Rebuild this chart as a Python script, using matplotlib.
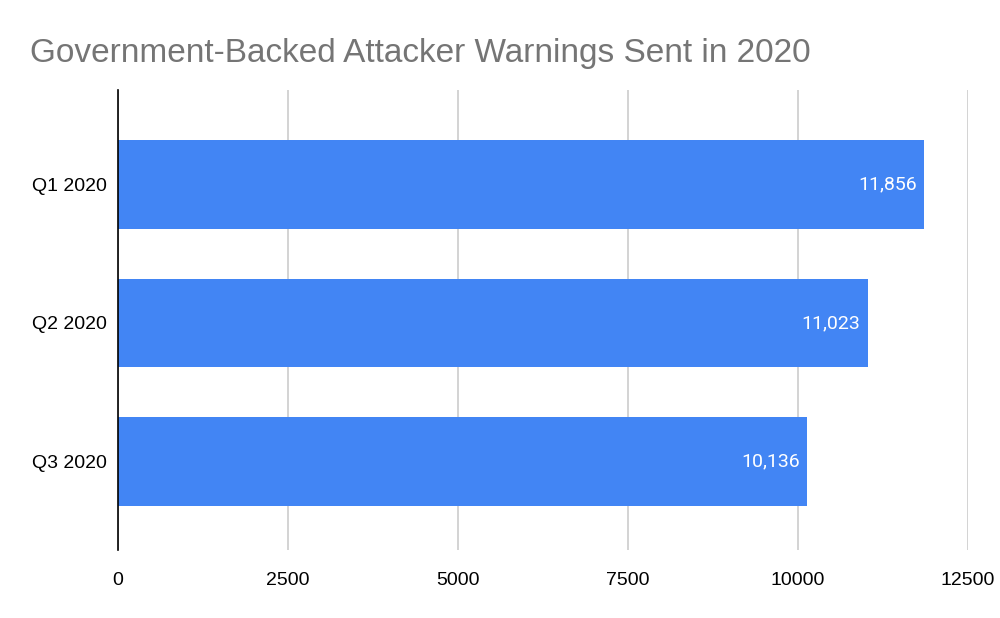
import matplotlib
matplotlib.use("Agg")
import matplotlib.pyplot as plt

categories = ["Q1 2020", "Q2 2020", "Q3 2020"]
values = [11856, 11023, 10136]
xticks = [0, 2500, 5000, 7500, 10000, 12500]

plt.rcParams['font.family'] = ['Liberation Sans', 'DejaVu Sans']

fig = plt.figure(figsize=(10, 6.18), dpi=100)
ax = fig.add_axes([0.118, 0.110, 0.850, 0.744])

pos = list(range(len(categories)))
bars = ax.barh(pos, values, height=0.64, color="#4285F4", zorder=3)
for p, v in zip(pos, values):
    ax.text(v - 110, p, f"{v:,}", color="white", ha="right", va="center", fontsize=14,
            family=['Roboto', 'DejaVu Sans'], zorder=4)

ax.set_ylim(2.64, -0.68)
ax.set_xlim(0, 12500)
ax.set_yticks(pos)
ax.set_yticklabels(categories, fontsize=14)
ax.set_xticks(xticks)
ax.set_xticklabels([str(t) for t in xticks], fontsize=14)
ax.tick_params(axis='x', length=0, pad=16)
ax.tick_params(axis='y', length=0, pad=8)
ax.grid(axis='x', color="#cccccc", linewidth=1.2, zorder=0)
for s in ["top", "right", "bottom"]:
    ax.spines[s].set_visible(False)
ax.spines["left"].set_color("black")
ax.spines["left"].set_linewidth(1.2)
ax.spines["left"].set_zorder(5)

fig.text(0.030, 0.913, "Government-Backed Attacker Warnings Sent in 2020", fontsize=24,
         color="#757575", ha="left", va="center")

fig.savefig("out.png", dpi=100, facecolor="white")
